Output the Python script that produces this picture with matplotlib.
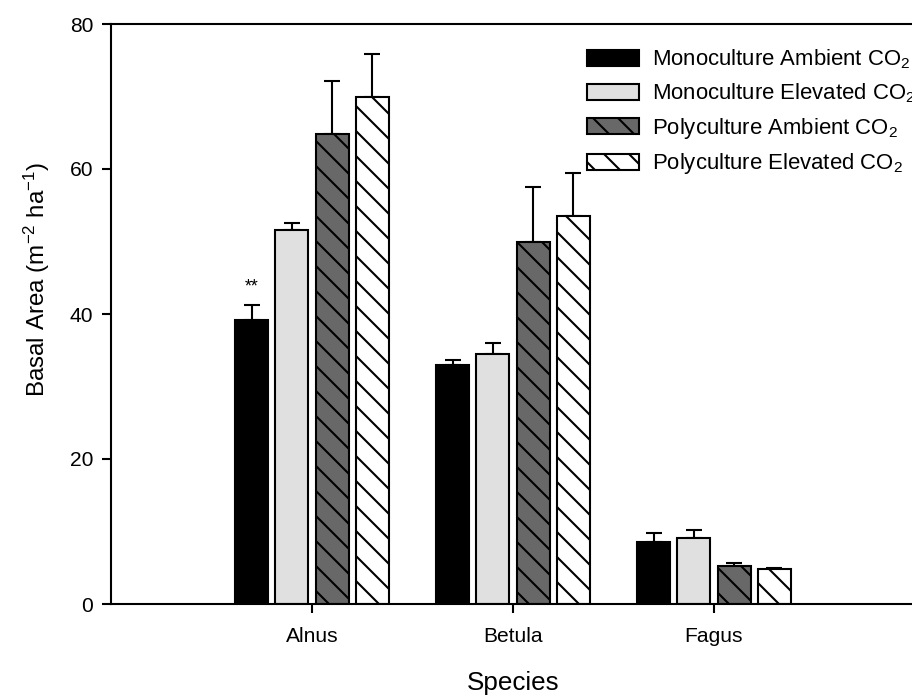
import matplotlib
matplotlib.use("Agg")
import matplotlib.pyplot as plt
import numpy as np

plt.rcParams['font.family'] = ['Liberation Sans', 'DejaVu Sans']
plt.rcParams['mathtext.fontset'] = 'custom'
plt.rcParams['mathtext.rm'] = 'Liberation Sans'
plt.rcParams['mathtext.it'] = 'Liberation Sans:italic'
plt.rcParams['mathtext.bf'] = 'Liberation Sans:bold'
plt.rcParams['hatch.linewidth'] = 1.0

# ---- data ----
species = ["Alnus", "Betula", "Fagus"]
series_names = ["Monoculture Ambient CO$_2$", "Monoculture Elevated CO$_2$",
                "Polyculture Ambient CO$_2$", "Polyculture Elevated CO$_2$"]
mono_ambient = [39.2, 32.9, 8.5]
mono_ambient_err = [2.1, 0.8, 1.3]
mono_elevated = [51.6, 34.5, 9.1]
mono_elevated_err = [0.9, 1.5, 1.1]
poly_ambient = [64.8, 49.9, 5.2]
poly_ambient_err = [7.3, 7.6, 0.5]
poly_elevated = [70.0, 53.5, 4.8]
poly_elevated_err = [5.9, 6.0, 0.2]
yticks = [0, 20, 40, 60, 80]
significance = ["**", "", ""]

values = [mono_ambient, mono_elevated, poly_ambient, poly_elevated]
errors = [mono_ambient_err, mono_elevated_err, poly_ambient_err, poly_elevated_err]
facecolors = ["#000000", "#e0e0e0", "#686868", "#ffffff"]
hatches = [None, None, "\\\\", "\\\\"]

fig = plt.figure(figsize=(6.08, 4.64), dpi=150)
W, H = 912, 696
ax = fig.add_axes([111 / W, 1 - 604 / H, 804 / W, 580 / H])

x = np.arange(len(species))
offsets = [-0.3, -0.1, 0.1, 0.3]
width = 0.164
for i in range(4):
    ax.bar(x + offsets[i], values[i], width=width, color=facecolors[i],
           edgecolor="black", linewidth=1.0, hatch=hatches[i],
           label=series_names[i], zorder=2)
    ax.errorbar(x + offsets[i], values[i],
                yerr=[np.zeros(len(species)), errors[i]],
                fmt="none", ecolor="black", elinewidth=1.0,
                capsize=4.0, capthick=1.0, zorder=1)

for j, s in enumerate(significance):
    if s:
        ax.text(x[j] + offsets[0], mono_ambient[j] + mono_ambient_err[j] + 1.2, s,
                ha="center", va="bottom", fontsize=8.5)

ax.set_xlim(-1, 3)
ax.set_ylim(0, 80)
ax.set_yticks(yticks)
ax.set_xticks(x)
ax.set_xticklabels(species)
ax.tick_params(axis="both", direction="out", length=4.3, width=1.0,
               labelsize=10.1, pad=4.3)
ax.tick_params(axis="x", pad=6.5)
for sp in ax.spines.values():
    sp.set_linewidth(1.0)

ax.set_xlabel("Species", fontsize=12.5)
ax.set_ylabel("Basal Area (m$^{-2}$ ha$^{-1}$)", fontsize=11.6)
ax.xaxis.set_label_coords(0.5, -(671 - 604) / 580)
ax.yaxis.set_label_coords((52 - 111) / 804, (604 - 279) / 580)

leg = ax.legend(loc="upper left", bbox_to_anchor=(587 / W, 1 - 47.5 / H),
                bbox_transform=fig.transFigure, frameon=False, fontsize=10.6,
                handlelength=2.36, handleheight=0.77, handletextpad=0.6,
                labelspacing=0.48, borderpad=0, borderaxespad=0)

fig.savefig("out.png", dpi=150)
